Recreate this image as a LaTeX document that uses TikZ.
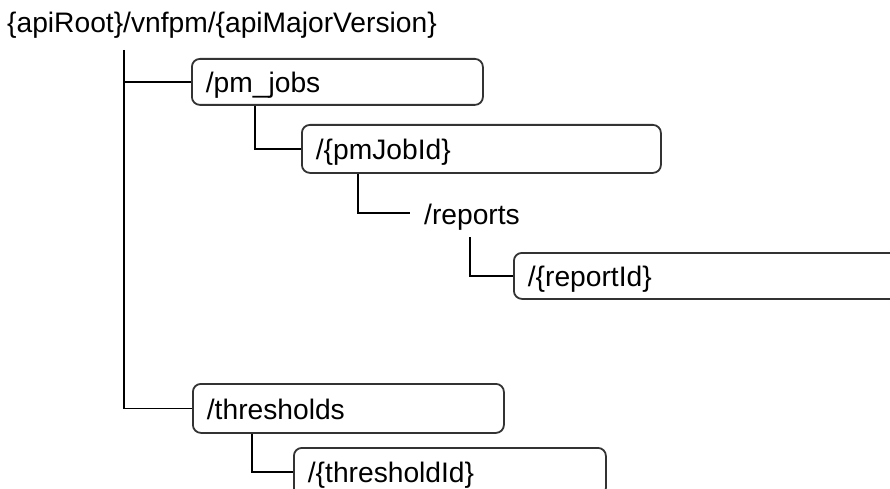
\documentclass[tikz,border=0pt]{standalone}
\usepackage{fontspec}
\setmainfont{Liberation Sans}
\begin{document}
\begin{tikzpicture}[x=1pt,y=-1pt,
  lbl/.style={font=\fontsize{28.2}{30}\selectfont, text height=24pt, text depth=2pt, inner xsep=14pt, inner ysep=0pt, align=left},
  box/.style={lbl, draw=black!80, line width=1.8pt, rounded corners=8pt, anchor=north west},
  conn/.style={line width=1.8pt, black}]
\useasboundingbox (0,0) rectangle (890,489);
\clip (0,0) rectangle (890,489);
\node[lbl, anchor=base west, inner sep=0pt] (root) at (7,33) {\{apiRoot\}/vnfpm/\{apiMajorVersion\}};
\node[box, minimum width=291pt, minimum height=46pt, text width=263pt] (pmjobs) at (191,58) {/pm\_jobs};
\node[box, minimum width=359pt, minimum height=48pt, text width=331pt] (pmjobid) at (301,124) {/\{pmJobId\}};
\node[lbl, anchor=west] (reports) at (410,213) {/reports};
\node[box, minimum width=487pt, minimum height=46pt, text width=459pt] (reportid) at (513,252) {/\{reportId\}};
\node[box, minimum width=311pt, minimum height=49pt, text width=283pt] (thresholds) at (192,383) {/thresholds};
\node[box, minimum width=312pt, minimum height=48pt, text width=284pt] (thresholdid) at (293,447) {/\{thresholdId\}};
\coordinate (t0) at (124,50);
\draw[conn] (t0) |- (pmjobs.west);
\draw[conn] (t0) |- (thresholds.west);
\draw[conn] ([xshift=64pt]pmjobs.south west) |- (pmjobid.west);
\draw[conn] ([xshift=57pt]pmjobid.south west) |- (reports.west);
\draw[conn] ([xshift=60pt,yshift=-11pt]reports.south west) |- (reportid.west);
\draw[conn] ([xshift=60pt]thresholds.south west) |- (thresholdid.west);
\end{tikzpicture}
\end{document}
